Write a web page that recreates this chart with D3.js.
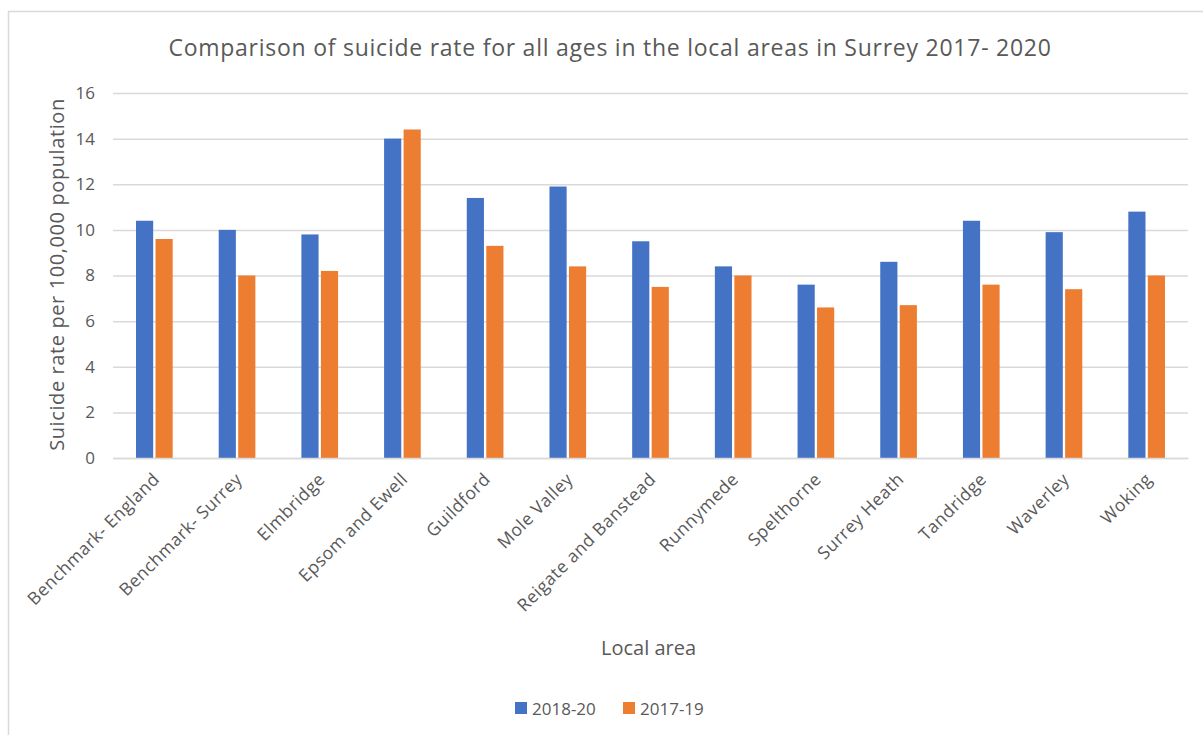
<!DOCTYPE html>
<html>
<head>
<meta charset="utf-8">
<script src="https://cdn.jsdelivr.net/npm/d3@7"></script>
<style>
  html, body { margin: 0; padding: 0; background: #fff; }
  text { font-family: "Open Sans", Lato, sans-serif; fill: #595959; }
</style>
</head>
<body>
<div id="chart"></div>
<script>
var areas = ['Benchmark- England', 'Benchmark- Surrey', 'Elmbridge', 'Epsom and Ewell',
  'Guildford', 'Mole Valley', 'Reigate and Banstead', 'Runnymede', 'Spelthorne',
  'Surrey Heath', 'Tandridge', 'Waverley', 'Woking'];
var seriesNames = ['2018-20', '2017-19'];
var rate1820 = [10.4, 10.0, 9.8, 14.0, 11.4, 11.9, 9.5, 8.4, 7.6, 8.6, 10.4, 9.9, 10.8];
var rate1719 = [9.6, 8.0, 8.2, 14.4, 9.3, 8.4, 7.5, 8.0, 6.6, 6.7, 7.6, 7.4, 8.0];
var yTicks = [0, 2, 4, 6, 8, 10, 12, 14, 16];
var colors = ['#4472c4', '#ed7d31'];

var width = 1203, height = 735;
var margin = {top: 93, right: 15, bottom: 277, left: 113};
var innerW = 1188 - margin.left, innerH = 458 - margin.top;

var svg = d3.select('#chart').append('svg')
  .attr('width', width).attr('height', height);

// chart frame (only top and left edges fall inside the picture)
svg.append('path')
  .attr('d', 'M8.5,' + height + 'V11.5H' + width)
  .attr('fill', 'none').attr('stroke', '#d9d9d9').attr('stroke-width', 1.5);

var g = svg.append('g').attr('transform', 'translate(' + margin.left + ',' + margin.top + ')');

var x0 = d3.scaleBand().domain(areas).range([0, innerW]).paddingInner(0.5).paddingOuter(0.25);
var x1 = d3.scaleBand().domain(seriesNames).range([0, x0.bandwidth()]).padding(0.12);
var y = d3.scaleLinear().domain([0, 16]).range([innerH, 0]);

// gridlines and y tick labels
var yAxis = g.append('g')
  .call(d3.axisLeft(y).tickValues(yTicks).tickSize(-innerW).tickPadding(18));
yAxis.select('.domain').remove();
yAxis.selectAll('.tick line').attr('stroke', '#d9d9d9').attr('stroke-width', 1.5);
yAxis.selectAll('.tick text').style('font-size', '17px').attr('fill', '#595959');

var rows = areas.map(function (a, i) {
  return {area: a, values: [rate1820[i], rate1719[i]]};
});

var groups = g.selectAll('.grp').data(rows).enter().append('g')
  .attr('class', 'grp')
  .attr('transform', function (d) { return 'translate(' + x0(d.area) + ',0)'; });

groups.selectAll('rect')
  .data(function (d) { return d.values.map(function (v, k) { return {s: seriesNames[k], v: v, k: k}; }); })
  .enter().append('rect')
  .attr('x', function (d) { return x1(d.s); })
  .attr('width', x1.bandwidth())
  .attr('y', function (d) { return y(d.v); })
  .attr('height', function (d) { return innerH - y(d.v); })
  .attr('fill', function (d) { return colors[d.k]; });

// x axis
var xAxis = g.append('g').attr('transform', 'translate(0,' + innerH + ')')
  .call(d3.axisBottom(x0).tickSize(0).tickPadding(0));
xAxis.select('.domain').attr('stroke', '#d9d9d9').attr('stroke-width', 1.5);
xAxis.selectAll('.tick text')
  .style('font-size', '17.5px')
  .style('letter-spacing', '0.5px')
  .attr('fill', '#595959')
  .attr('text-anchor', 'end')
  .attr('dy', '0.35em')
  .attr('transform', 'translate(2,18) rotate(-45)');

// title
svg.append('text')
  .attr('x', 610).attr('y', 56)
  .attr('text-anchor', 'middle')
  .style('font-size', '23px')
  .style('letter-spacing', '0.75px')
  .text('Comparison  of suicide rate for all ages in the local areas in Surrey 2017- 2020');

// axis titles
svg.append('text')
  .attr('transform', 'translate(64,' + (margin.top + innerH / 2 - 1) + ') rotate(-90)')
  .attr('text-anchor', 'middle')
  .style('font-size', '20px')
  .style('letter-spacing', '0.6px')
  .text('Suicide rate per 100,000 population');

svg.append('text')
  .attr('x', margin.left + innerW / 2 - 2).attr('y', 655)
  .attr('text-anchor', 'middle')
  .style('font-size', '20px')
  .text('Local area');

// legend
var legend = svg.append('g').attr('transform', 'translate(515,702)');
var item = legend.selectAll('g').data(seriesNames).enter().append('g')
  .attr('transform', function (d, i) { return 'translate(' + (i * 108) + ',0)'; });
item.append('rect').attr('width', 12).attr('height', 12)
  .attr('fill', function (d, i) { return colors[i]; });
item.append('text').attr('x', 17).attr('y', 13)
  .style('font-size', '17px')
  .text(function (d) { return d; });
</script>
</body>
</html>
